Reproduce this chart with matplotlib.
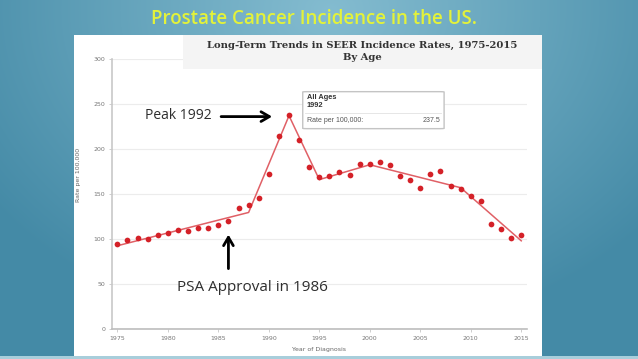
import numpy as np
import matplotlib
matplotlib.use("Agg")
from matplotlib import pyplot as plt
from matplotlib.patches import Rectangle, FancyBboxPatch

# data
years = list(range(1975, 2016))
rates = [94.4, 98.5, 101, 100, 104, 106.7, 109.6, 108.9, 112, 112,
         115.9, 119.6, 134.4, 138, 146, 171.8, 215, 237.5, 210, 180.3,
         169, 169.5, 174, 171.2, 183.3, 183.3, 185.5, 182.5, 170.3, 166,
         156.8, 172.3, 175.5, 158.7, 155.7, 148.2, 142.2, 116.3, 110.8, 101.2,
         105]
trend_years = [1975, 1988, 1992, 1995, 2000, 2009, 2015]
trend_rates = [92.5, 129.5, 237, 166, 182.5, 157, 98]
yticks = [0, 50, 100, 150, 200, 250, 300]
xticks = [1975, 1980, 1985, 1990, 1995, 2000, 2005, 2010, 2015]

W, H = 638, 359
fig = plt.figure(figsize=(W / 100, H / 100), dpi=100)

# blue slide background
bg = fig.add_axes([0, 0, 1, 1], zorder=0)
yy, xx = np.mgrid[0:H, 0:W]
d = np.sqrt(((xx - 330) / 420.0) ** 2 + ((yy - 10) / 330.0) ** 2)
d = np.clip(d, 0, 1)
c1 = np.array([132, 188, 208]) / 255.0
c2 = np.array([68, 138, 166]) / 255.0
img = c1[None, None, :] * (1 - d[..., None]) + c2[None, None, :] * d[..., None]
bg.imshow(img, extent=[0, W, H, 0], aspect="auto")
bg.set_xlim(0, W)
bg.set_ylim(H, 0)
bg.axis("off")
bg.add_patch(Rectangle((74, 35), 468, 321, facecolor="white", edgecolor="none"))
bg.add_patch(Rectangle((0, 356), W, 3, facecolor="#a8cedb", edgecolor="none"))
bg.text(314, 19, "Prostate Cancer Incidence in the US.", color="#e3f23a",
        fontsize=13.5, fontweight="semibold", family="Open Sans",
        ha="center", va="center")

# chart axes
ax = fig.add_axes([112 / W, (H - 329) / H, 415 / W, 270 / H], zorder=1)
ax.set_facecolor("none")
ax.set_xlim(1974.47, 2015.57)
ax.set_ylim(0, 300)
ax.set_yticks(yticks)
ax.set_xticks(xticks)
ax.tick_params(axis="both", length=2, width=0.5, color="#bbbbbb",
               labelsize=4.5, labelcolor="#777777", pad=3)
ax.grid(axis="y", color="#ececec", lw=0.8)
ax.set_axisbelow(True)
for s in ["top", "right"]:
    ax.spines[s].set_visible(False)
ax.spines["left"].set_color("#c8c8c8")
ax.spines["bottom"].set_color("#bdbdbd")
ax.spines["left"].set_linewidth(1.2)
ax.spines["bottom"].set_linewidth(1.2)
ax.set_ylabel("Rate per 100,000", fontsize=4.5, color="#666666")
ax.yaxis.set_label_coords(-0.075, 0.57)
ax.set_xlabel("Year of Diagnosis", fontsize=4.5, color="#666666", labelpad=4)

ax.plot(trend_years, trend_rates, color="#e06066", lw=1.1, zorder=2)
ax.scatter(years, rates, s=17, color="#d42128", zorder=3, linewidths=0)

# tooltip for 1992
ax.add_patch(FancyBboxPatch((1993.36, 222.6), 14.0, 41.1,
                            boxstyle="round,pad=0,rounding_size=0.4",
                            facecolor="white", edgecolor="#c4c4c4", lw=1.0,
                            clip_on=False, zorder=5))
ax.plot([1993.6, 2007.1], [239.5, 239.5], color="#e2e2e2", lw=0.6,
        clip_on=False, zorder=6)
ax.text(1993.75, 257.5, "All Ages", fontsize=5.3, fontweight="bold",
        color="#333333", va="center", zorder=6, family="Liberation Sans")
ax.text(1993.75, 248, "1992", fontsize=5.3, fontweight="bold",
        color="#333333", va="center", zorder=6, family="Liberation Sans")
ax.text(1993.75, 231.5, "Rate per 100,000:", fontsize=5, color="#555555",
        va="center", zorder=6, family="Liberation Sans")
ax.text(2007.0, 231.5, "237.5", fontsize=5, color="#555555", ha="right",
        va="center", zorder=6, family="Liberation Sans")

# annotations
ax.text(1977.75, 237, "Peak 1992", fontsize=10, color="#2e2e2e",
        family="Open Sans", va="center", ha="left")
ax.annotate("", xy=(1990.6, 236), xytext=(1985.0, 236),
            arrowprops=dict(arrowstyle="->,head_length=0.6,head_width=0.35",
                            lw=2, color="black"))
ax.text(1980.95, 46, "PSA Approval in 1986", fontsize=11, color="#2e2e2e",
        family="Open Sans", va="center", ha="left")
ax.annotate("", xy=(1986.0, 108), xytext=(1986.0, 64),
            arrowprops=dict(arrowstyle="->,head_length=0.6,head_width=0.35",
                            lw=2, color="black"))

# grey title box over the top of the chart
top = fig.add_axes([0, 0, 1, 1], zorder=2)
top.set_xlim(0, W)
top.set_ylim(H, 0)
top.axis("off")
top.patch.set_alpha(0)
top.add_patch(Rectangle((183, 35), 359, 34, facecolor="#f4f4f4",
                        edgecolor="none"))
top.text(362, 45, "Long-Term Trends in SEER Incidence Rates, 1975-2015",
         fontsize=7.2, fontweight="bold", family="DejaVu Serif",
         color="#333333", ha="center", va="center")
top.text(362, 58, "By Age", fontsize=7.2, fontweight="bold",
         family="DejaVu Serif", color="#333333", ha="center", va="center")

fig.savefig("out.png", dpi=100)
